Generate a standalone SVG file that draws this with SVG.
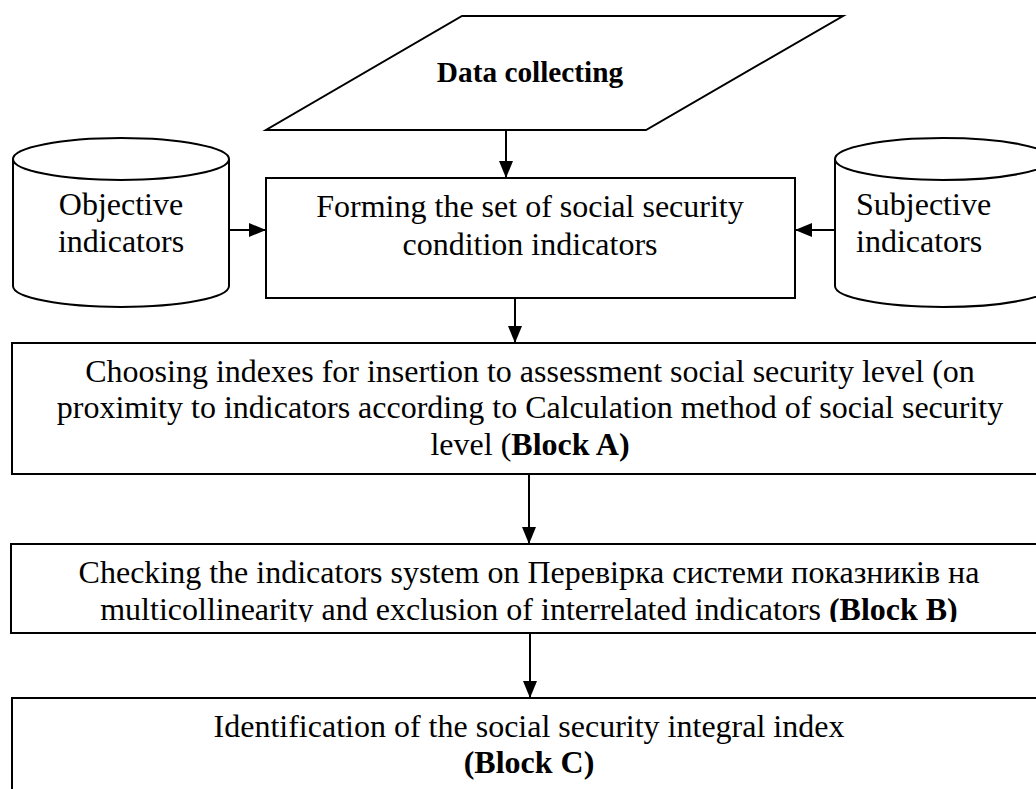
<svg xmlns="http://www.w3.org/2000/svg" width="1036" height="789" viewBox="0 0 1036 789">
<style>
.shape{fill:#fff;stroke:#000;stroke-width:2}
.t{font-family:"Liberation Serif","Times New Roman",serif;font-size:32px;fill:#000}
.b{font-weight:bold}
.c{text-anchor:middle}
.conn{stroke:#000;stroke-width:2;fill:none;marker-end:url(#arr)}
</style>
<defs>
<marker id="arr" markerUnits="userSpaceOnUse" markerWidth="17" markerHeight="14" refX="17" refY="7" orient="auto">
<path d="M0,0 L17,7 L0,14 z" fill="#000"/>
</marker>
<clipPath id="clipB"><rect x="0" y="544" width="1036" height="78"/></clipPath>
</defs>
<rect width="1036" height="789" fill="#fff"/>
<g id="data-collecting">
<polygon class="shape" points="462,16 843,16 646,130 266,130"/>
<text class="t b c" x="530" y="82" style="font-size:29.3px">Data collecting</text>
</g>
<g id="objective">
<path class="shape" d="M13,159 L13,286 A108,21 0 0 0 229,286 L229,159"/>
<ellipse class="shape" cx="121" cy="159" rx="108" ry="21"/>
<text class="t c" x="121" y="215">Objective</text>
<text class="t c" x="121" y="252">indicators</text>
</g>
<g id="subjective">
<path class="shape" d="M835,159 L835,286 A108,21 0 0 0 1051,286 L1051,159"/>
<ellipse class="shape" cx="943" cy="159" rx="108" ry="21"/>
<text class="t" x="856" y="215">Subjective</text>
<text class="t" x="856" y="252">indicators</text>
</g>
<g id="forming">
<rect class="shape" x="266" y="178" width="529" height="120"/>
<text class="t c" x="530" y="217">Forming the set of social security</text>
<text class="t c" x="530" y="255">condition indicators</text>
</g>
<g id="block-a">
<rect class="shape" x="12" y="343" width="1030" height="131"/>
<text class="t c" x="530" y="382">Choosing indexes for insertion to assessment social security level (on</text>
<text class="t c" x="530" y="418">proximity to indicators according to Calculation method of social security</text>
<text class="t c" x="530" y="455">level (<tspan class="b">Block A)</tspan></text>
</g>
<g id="block-b">
<rect class="shape" x="11" y="544" width="1031" height="89"/>
<g clip-path="url(#clipB)">
<text class="t c" x="529" y="583">Checking the indicators system on Перевірка системи показників на</text>
<text class="t c" x="529" y="620">multicollinearity and exclusion of interrelated indicators <tspan class="b">(Block B)</tspan></text>
</g>
</g>
<g id="block-c">
<rect class="shape" x="12" y="698" width="1030" height="110"/>
<text class="t c" x="529" y="737">Identification of the social security integral index</text>
<text class="t b c" x="529" y="773">(Block C)</text>
</g>
<g id="connectors">
<line class="conn" x1="506" y1="130" x2="506" y2="178"/>
<line class="conn" x1="229" y1="230" x2="266" y2="230"/>
<line class="conn" x1="835" y1="230" x2="795" y2="230"/>
<line class="conn" x1="515" y1="298" x2="515" y2="343"/>
<line class="conn" x1="529" y1="474" x2="529" y2="544"/>
<line class="conn" x1="530" y1="633" x2="530" y2="698"/>
</g>
</svg>
